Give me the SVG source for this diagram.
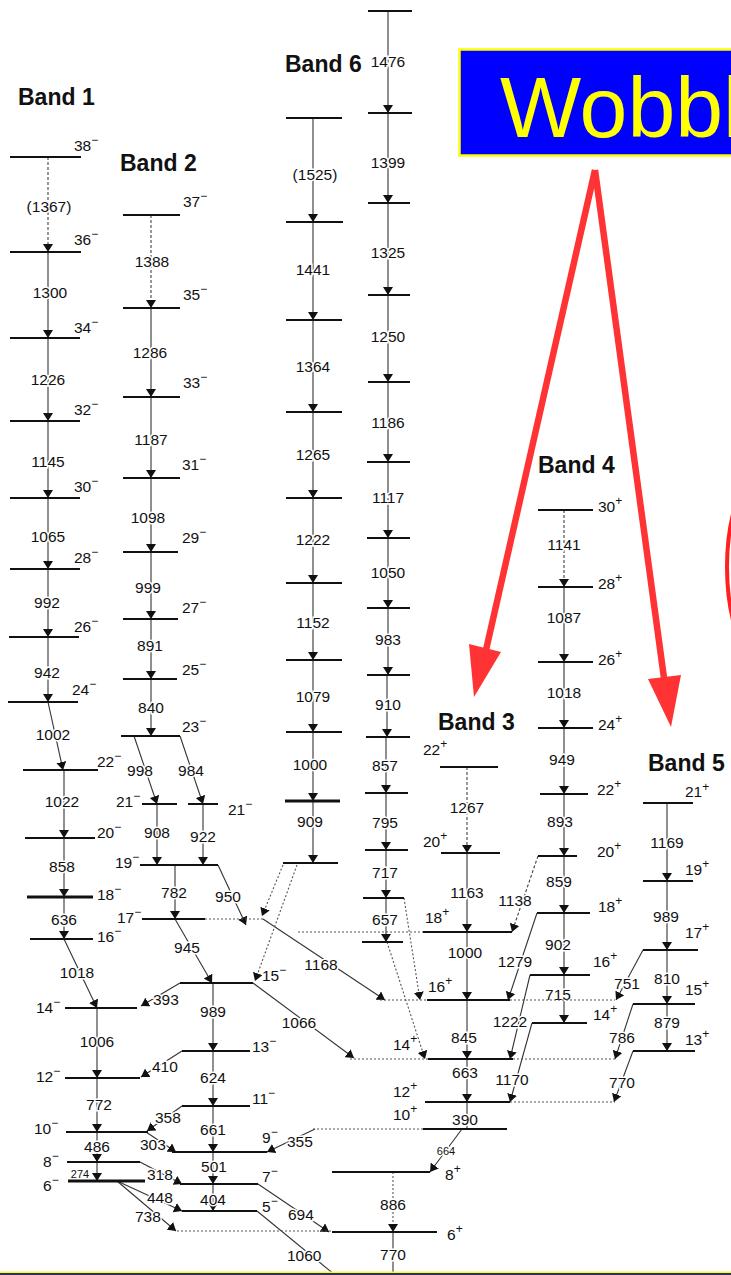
<svg xmlns="http://www.w3.org/2000/svg" width="731" height="1275" viewBox="0 0 731 1275">
<style>
.lv{stroke:#111;stroke-width:2;fill:none}
.lvt{stroke:#111;stroke-width:3;fill:none}
.dl{stroke:#555;stroke-width:1.2;stroke-dasharray:2 2;fill:none}
.t{stroke:#333;stroke-width:1.1;fill:none;marker-end:url(#ah)}
.tn{stroke:#333;stroke-width:1.1;fill:none}
.td{stroke:#444;stroke-width:1.1;fill:none;stroke-dasharray:3 2;marker-end:url(#ah)}
.tdot{stroke:#555;stroke-width:1.1;fill:none;stroke-dasharray:2 2;marker-end:url(#ah)}
text{font-family:"Liberation Sans",Arial,sans-serif;fill:#111}
.e{font-size:15.5px;text-anchor:middle;stroke:#fff;stroke-width:3;paint-order:stroke}
.el{font-size:15.5px;text-anchor:start;stroke:#fff;stroke-width:3;paint-order:stroke}
.sm{font-size:11px}
.s{font-size:15.5px}
.p{font-size:12px}
.b{font-size:23px;font-weight:bold}
.red{stroke:#ff3333;stroke-width:6.5;fill:none}
</style>
<defs>
<marker id="ah" viewBox="0 0 8 10" refX="8" refY="5" markerWidth="8" markerHeight="10" markerUnits="userSpaceOnUse" orient="auto">
<path d="M0,0 L8,5 L0,10 z" fill="#111"/>
</marker>
</defs>
<rect width="731" height="1275" fill="#fff"/>

<g id="connectors">
<path class="td" d="M48,157V252"/>
<path class="t" d="M48,252V338"/>
<path class="t" d="M48,338V421"/>
<path class="t" d="M48,421V498"/>
<path class="t" d="M48,498V569"/>
<path class="t" d="M48,569V637"/>
<path class="t" d="M48,637V702"/>
<path class="t" d="M48,702L63,770"/>
<path class="t" d="M64,770V838"/>
<path class="t" d="M64,838V897"/>
<path class="t" d="M64,897V939"/>
<path class="t" d="M64,939L97,1008"/>
<path class="t" d="M97,1008V1078"/>
<path class="t" d="M97,1078V1132"/>
<path class="t" d="M97,1132V1162"/>
<path class="t" d="M97,1162V1181"/>
<path class="td" d="M151,215V308"/>
<path class="t" d="M151,308V397"/>
<path class="t" d="M151,397V478"/>
<path class="t" d="M151,478V552"/>
<path class="t" d="M151,552V619"/>
<path class="t" d="M151,619V679"/>
<path class="t" d="M151,679V736"/>
<path class="t" d="M134,736L157,804"/>
<path class="t" d="M180,736L203,804"/>
<path class="t" d="M157,804V865"/>
<path class="t" d="M203,804V865"/>
<path class="t" d="M175,865V919"/>
<path class="t" d="M218,865L246,925"/>
<path class="t" d="M175,919L212,983"/>
<path class="t" d="M213,983V1051"/>
<path class="t" d="M213,1051V1106"/>
<path class="t" d="M213,1106V1152"/>
<path class="t" d="M213,1152V1184"/>
<path class="t" d="M213,1184V1211"/>
<path class="t" d="M180,983L141,1006"/>
<path class="t" d="M182,1051L141,1077"/>
<path class="t" d="M182,1106L147,1131"/>
<path class="t" d="M146,1132L176,1152"/>
<path class="t" d="M140,1162L182,1184"/>
<path class="t" d="M117,1181L182,1211"/>
<path class="t" d="M117,1181L176,1231"/>
<path class="t" d="M258,1184L329,1232"/>
<path class="tn" d="M257,1211L335,1275"/>
<path class="t" d="M315,1129L267,1152"/>
<path class="t" d="M253,983L354,1058"/>
<path class="t" d="M263,919L385,1000"/>
<path class="tdot" d="M283,865L262,916"/>
<path class="tdot" d="M297,865L255,981"/>
<path class="t" d="M313,118V222"/>
<path class="t" d="M313,222V320"/>
<path class="t" d="M313,320V412"/>
<path class="t" d="M313,412V498"/>
<path class="t" d="M313,498V583"/>
<path class="t" d="M313,583V660"/>
<path class="t" d="M313,660V732"/>
<path class="t" d="M313,732V801"/>
<path class="t" d="M313,801V863"/>
<path class="t" d="M388,11V113"/>
<path class="t" d="M388,113V203"/>
<path class="t" d="M388,203V295"/>
<path class="t" d="M388,295V382"/>
<path class="t" d="M388,382V462"/>
<path class="t" d="M388,462V538"/>
<path class="t" d="M388,538V608"/>
<path class="t" d="M388,608V675"/>
<path class="t" d="M387,675V737"/>
<path class="t" d="M386,737V793"/>
<path class="t" d="M386,793V850"/>
<path class="t" d="M386,850V898"/>
<path class="t" d="M386,898V942"/>
<path class="tdot" d="M404,898L420,1000"/>
<path class="tdot" d="M387,942L425,1059"/>
<path class="td" d="M467,767V853"/>
<path class="t" d="M467,853V932"/>
<path class="t" d="M467,932V1000"/>
<path class="t" d="M467,1000V1059"/>
<path class="t" d="M467,1059V1102"/>
<path class="tn" d="M467,1102V1129"/>
<path class="t" d="M462,1129L430,1172"/>
<path class="tdot" d="M393,1172V1232"/>
<path class="tn" d="M393,1232V1275"/>
<path class="td" d="M564,510V587"/>
<path class="t" d="M564,587V662"/>
<path class="t" d="M564,662V728"/>
<path class="t" d="M564,728V794"/>
<path class="t" d="M564,794V856"/>
<path class="t" d="M564,856V913"/>
<path class="t" d="M564,913V975"/>
<path class="t" d="M564,975V1023"/>
<path class="td" d="M538,856L512,932"/>
<path class="t" d="M537,913L508,1000"/>
<path class="t" d="M530,975L510,1059"/>
<path class="t" d="M532,1023L510,1102"/>
<path class="t" d="M667,803V881"/>
<path class="t" d="M667,881V950"/>
<path class="t" d="M667,950V1004"/>
<path class="t" d="M667,1004V1051"/>
<path class="t" d="M643,950L616,1000"/>
<path class="t" d="M633,1004L615,1059"/>
<path class="t" d="M633,1051L614,1102"/>

<text class="e" x="49" y="212">(1367)</text>
<text class="e" x="50" y="298">1300</text>
<text class="e" x="48" y="385">1226</text>
<text class="e" x="48" y="467">1145</text>
<text class="e" x="48" y="542">1065</text>
<text class="e" x="47" y="608">992</text>
<text class="e" x="47" y="678">942</text>
<text class="e" x="53" y="740">1002</text>
<text class="e" x="62" y="807">1022</text>
<text class="e" x="62" y="872">858</text>
<text class="e" x="64" y="925">636</text>
<text class="e" x="77" y="978">1018</text>
<text class="e" x="97" y="1047">1006</text>
<text class="e" x="99" y="1110">772</text>
<text class="e" x="97" y="1152">486</text>
<text class="e sm" x="80" y="1178">274</text>
<text class="e" x="152" y="267">1388</text>
<text class="e" x="150" y="358">1286</text>
<text class="e" x="151" y="445">1187</text>
<text class="e" x="148" y="523">1098</text>
<text class="e" x="148" y="593">999</text>
<text class="e" x="150" y="651">891</text>
<text class="e" x="151" y="713">840</text>
<text class="e" x="140" y="776">998</text>
<text class="e" x="191" y="776">984</text>
<text class="e" x="157" y="838">908</text>
<text class="e" x="203" y="842">922</text>
<text class="e" x="174" y="898">782</text>
<text class="e" x="228" y="902">950</text>
<text class="e" x="187" y="953">945</text>
<text class="e" x="213" y="1017">989</text>
<text class="e" x="213" y="1083">624</text>
<text class="e" x="213" y="1135">661</text>
<text class="e" x="214" y="1172">501</text>
<text class="e" x="213" y="1205">404</text>
<text class="el" x="153" y="1005">393</text>
<text class="el" x="152" y="1072">410</text>
<text class="el" x="155" y="1123">358</text>
<text class="el" x="140" y="1150">303</text>
<text class="el" x="147" y="1180">318</text>
<text class="el" x="147" y="1203">448</text>
<text class="el" x="135" y="1222">738</text>
<text class="el" x="287" y="1147">355</text>
<text class="el" x="288" y="1220">694</text>
<text class="el" x="287" y="1261">1060</text>
<text class="e" x="299" y="1028">1066</text>
<text class="e" x="321" y="970">1168</text>
<text class="e" x="388" y="67">1476</text>
<text class="e" x="388" y="168">1399</text>
<text class="e" x="388" y="258">1325</text>
<text class="e" x="388" y="342">1250</text>
<text class="e" x="388" y="428">1186</text>
<text class="e" x="388" y="503">1117</text>
<text class="e" x="388" y="578">1050</text>
<text class="e" x="388" y="645">983</text>
<text class="e" x="388" y="710">910</text>
<text class="e" x="385" y="771">857</text>
<text class="e" x="385" y="828">795</text>
<text class="e" x="385" y="878">717</text>
<text class="e" x="385" y="925">657</text>
<text class="e" x="315" y="180">(1525)</text>
<text class="e" x="313" y="275">1441</text>
<text class="e" x="313" y="372">1364</text>
<text class="e" x="313" y="460">1265</text>
<text class="e" x="313" y="545">1222</text>
<text class="e" x="313" y="628">1152</text>
<text class="e" x="313" y="702">1079</text>
<text class="e" x="310" y="770">1000</text>
<text class="e" x="310" y="827">909</text>
<text class="e" x="467" y="813">1267</text>
<text class="e" x="467" y="898">1163</text>
<text class="e" x="465" y="958">1000</text>
<text class="e" x="464" y="1043">845</text>
<text class="e" x="465" y="1078">663</text>
<text class="e" x="465" y="1125">390</text>
<text class="e sm" x="446" y="1155">664</text>
<text class="e" x="393" y="1210">886</text>
<text class="e" x="393" y="1260">770</text>
<text class="e" x="564" y="550">1141</text>
<text class="e" x="564" y="623">1087</text>
<text class="e" x="564" y="698">1018</text>
<text class="e" x="562" y="765">949</text>
<text class="e" x="560" y="827">893</text>
<text class="e" x="559" y="887">859</text>
<text class="e" x="558" y="950">902</text>
<text class="e" x="558" y="1000">715</text>
<text class="e" x="515" y="906">1138</text>
<text class="e" x="515" y="967">1279</text>
<text class="e" x="510" y="1027">1222</text>
<text class="e" x="512" y="1085">1170</text>
<text class="e" x="667" y="848">1169</text>
<text class="e" x="666" y="922">989</text>
<text class="e" x="667" y="984">810</text>
<text class="e" x="667" y="1028">879</text>
<text class="e" x="627" y="989">751</text>
<text class="e" x="622" y="1043">786</text>
<text class="e" x="622" y="1088">770</text>
</g>

<g id="band1">
<text class="b" x="18" y="105">Band 1</text>
<path class="lv" d="M10,157H81 M10,252H81 M10,338H80 M10,421H80 M10,498H80 M10,569H80 M9,637H79 M8,702H78 M23,770H98 M25,838H95 M30,939H93 M65,1008H137 M65,1078H140 M66,1132H148 M67,1162H140"/>
<path class="lvt" d="M27,897H93 M68,1181H145"/>
<text class="s" x="74" y="151">38<tspan class="p" dy="-7">−</tspan></text>
<text class="s" x="74" y="245">36<tspan class="p" dy="-7">−</tspan></text>
<text class="s" x="74" y="333">34<tspan class="p" dy="-7">−</tspan></text>
<text class="s" x="74" y="415">32<tspan class="p" dy="-7">−</tspan></text>
<text class="s" x="74" y="492">30<tspan class="p" dy="-7">−</tspan></text>
<text class="s" x="74" y="563">28<tspan class="p" dy="-7">−</tspan></text>
<text class="s" x="74" y="632">26<tspan class="p" dy="-7">−</tspan></text>
<text class="s" x="72" y="695">24<tspan class="p" dy="-7">−</tspan></text>
<text class="s" x="97" y="767">22<tspan class="p" dy="-7">−</tspan></text>
<text class="s" x="97" y="838">20<tspan class="p" dy="-7">−</tspan></text>
<text class="s" x="97" y="900">18<tspan class="p" dy="-7">−</tspan></text>
<text class="s" x="97" y="942">16<tspan class="p" dy="-7">−</tspan></text>
<text class="s" x="36" y="1013">14<tspan class="p" dy="-7">−</tspan></text>
<text class="s" x="36" y="1082">12<tspan class="p" dy="-7">−</tspan></text>
<text class="s" x="34" y="1134">10<tspan class="p" dy="-7">−</tspan></text>
<text class="s" x="43" y="1167">8<tspan class="p" dy="-7">−</tspan></text>
<text class="s" x="43" y="1191">6<tspan class="p" dy="-7">−</tspan></text>
</g>

<g id="band2">
<text class="b" x="120" y="171">Band 2</text>
<path class="lv" d="M123,215H180 M123,308H180 M123,397H180 M123,478H180 M123,552H178 M123,619H178 M123,679H177 M121,736H180 M142,804H177 M188,804H218 M140,865H218 M142,919H205 M180,983H253 M182,1051H250 M182,1106H250 M172,1152H267 M180,1184H258 M182,1211H257"/>
<path class="dl" d="M205,919H263"/>
<text class="s" x="183" y="207">37<tspan class="p" dy="-7">−</tspan></text>
<text class="s" x="183" y="300">35<tspan class="p" dy="-7">−</tspan></text>
<text class="s" x="183" y="388">33<tspan class="p" dy="-7">−</tspan></text>
<text class="s" x="182" y="470">31<tspan class="p" dy="-7">−</tspan></text>
<text class="s" x="182" y="543">29<tspan class="p" dy="-7">−</tspan></text>
<text class="s" x="182" y="613">27<tspan class="p" dy="-7">−</tspan></text>
<text class="s" x="182" y="675">25<tspan class="p" dy="-7">−</tspan></text>
<text class="s" x="182" y="732">23<tspan class="p" dy="-7">−</tspan></text>
<text class="s" x="116" y="807">21<tspan class="p" dy="-7">−</tspan></text>
<text class="s" x="228" y="815">21<tspan class="p" dy="-7">−</tspan></text>
<text class="s" x="115" y="868">19<tspan class="p" dy="-7">−</tspan></text>
<text class="s" x="117" y="923">17<tspan class="p" dy="-7">−</tspan></text>
<text class="s" x="262" y="981">15<tspan class="p" dy="-7">−</tspan></text>
<text class="s" x="252" y="1052">13<tspan class="p" dy="-7">−</tspan></text>
<text class="s" x="252" y="1104">11<tspan class="p" dy="-7">−</tspan></text>
<text class="s" x="262" y="1143">9<tspan class="p" dy="-7">−</tspan></text>
<text class="s" x="262" y="1182">7<tspan class="p" dy="-7">−</tspan></text>
<text class="s" x="262" y="1212">5<tspan class="p" dy="-7">−</tspan></text>
</g>

<g id="band6">
<text class="b" x="285" y="72">Band 6</text>
<path class="lv" d="M286,118H342 M286,222H343 M286,320H342 M286,412H342 M286,498H342 M286,583H342 M286,660H342 M286,732H342 M283,863H338"/>
<path class="lvt" d="M285,801H340"/>
<path class="lv" d="M368,11H412 M368,113H412 M368,203H410 M368,295H410 M368,382H410 M367,462H410 M367,538H410 M367,608H410 M367,675H410 M366,737H410 M365,793H408 M365,850H408 M363,898H404 M362,942H403"/>
</g>

<g id="band3">
<text class="b" x="438" y="730">Band 3</text>
<path class="lv" d="M440,767H498 M441,853H500 M423,932H512 M427,1000H510 M428,1059H513 M425,1102H510 M423,1129H507 M332,1172H430 M332,1232H437"/>
<path class="dl" d="M298,932H423 M380,1000H427 M510,1000H615 M350,1059H428 M513,1059H615 M510,1102H615 M313,1129H423 M177,1231H332"/>
<text class="s" x="423" y="755">22<tspan class="p" dy="-7">+</tspan></text>
<text class="s" x="423" y="847">20<tspan class="p" dy="-7">+</tspan></text>
<text class="s" x="425" y="923">18<tspan class="p" dy="-7">+</tspan></text>
<text class="s" x="428" y="992">16<tspan class="p" dy="-7">+</tspan></text>
<text class="s" x="393" y="1050">14<tspan class="p" dy="-7">+</tspan></text>
<text class="s" x="393" y="1097">12<tspan class="p" dy="-7">+</tspan></text>
<text class="s" x="393" y="1120">10<tspan class="p" dy="-7">+</tspan></text>
<text class="s" x="445" y="1180">8<tspan class="p" dy="-7">+</tspan></text>
<text class="s" x="447" y="1240">6<tspan class="p" dy="-7">+</tspan></text>
</g>

<g id="band4">
<text class="b" x="538" y="473">Band 4</text>
<path class="lv" d="M538,510H593 M538,587H593 M538,662H593 M538,728H593 M540,794H588 M538,856H577 M537,913H590 M530,975H590 M532,1023H587"/>
<text class="s" x="598" y="512">30<tspan class="p" dy="-7">+</tspan></text>
<text class="s" x="598" y="589">28<tspan class="p" dy="-7">+</tspan></text>
<text class="s" x="598" y="665">26<tspan class="p" dy="-7">+</tspan></text>
<text class="s" x="598" y="730">24<tspan class="p" dy="-7">+</tspan></text>
<text class="s" x="597" y="795">22<tspan class="p" dy="-7">+</tspan></text>
<text class="s" x="597" y="857">20<tspan class="p" dy="-7">+</tspan></text>
<text class="s" x="598" y="912">18<tspan class="p" dy="-7">+</tspan></text>
<text class="s" x="593" y="967">16<tspan class="p" dy="-7">+</tspan></text>
<text class="s" x="593" y="1020">14<tspan class="p" dy="-7">+</tspan></text>
</g>

<g id="band5">
<text class="b" x="648" y="771">Band 5</text>
<path class="lv" d="M643,803H693 M643,881H693 M643,950H698 M633,1004H695 M633,1051H695"/>
<text class="s" x="685" y="797">21<tspan class="p" dy="-6">+</tspan></text>
<text class="s" x="685" y="875">19<tspan class="p" dy="-7">+</tspan></text>
<text class="s" x="685" y="938">17<tspan class="p" dy="-7">+</tspan></text>
<text class="s" x="685" y="995">15<tspan class="p" dy="-7">+</tspan></text>
<text class="s" x="685" y="1045">13<tspan class="p" dy="-7">+</tspan></text>
</g>

<g id="wobbling-box">
<rect x="459.5" y="49.5" width="290" height="106" fill="#0000ff" stroke="#ffff00" stroke-width="2.5"/>
<text x="500" y="137" font-size="86" style="fill:#ffff00">Wobbl</text>
</g>

<g id="red-arrows">
<path class="red" d="M595,170L486,650 M595,170L664,678"/>
<polygon points="469,644 501,652 474,697" fill="#ff3333"/>
<polygon points="648,679 681,675 671,727" fill="#ff3333"/>
<ellipse cx="787" cy="567" rx="60" ry="120" fill="none" stroke="#ff2020" stroke-width="4"/>
</g>

<rect x="0" y="1271.5" width="731" height="1.5" fill="#ffff00"/>
<rect x="0" y="1273" width="731" height="2" fill="#2b2b80"/>
</svg>
